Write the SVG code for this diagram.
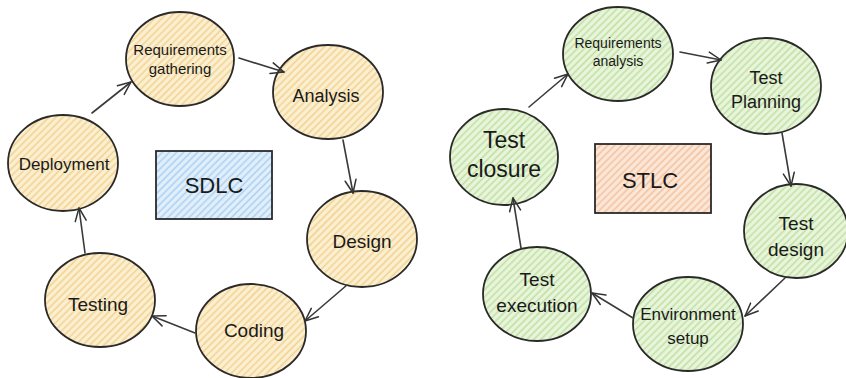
<svg xmlns="http://www.w3.org/2000/svg" width="846" height="378" viewBox="0 0 846 378">
  <defs>
    <!-- hachure fills -->
    <pattern id="hatchYellow" width="5" height="5" patternUnits="userSpaceOnUse" patternTransform="rotate(-45)">
      <rect width="5" height="5" fill="#fcf0d2"/>
      <line x1="0" y1="2.5" x2="5" y2="2.5" stroke="#f2d08e" stroke-width="1.5"/>
    </pattern>
    <pattern id="hatchGreen" width="5" height="5" patternUnits="userSpaceOnUse" patternTransform="rotate(-45)">
      <rect width="5" height="5" fill="#e9f5dc"/>
      <line x1="0" y1="2.5" x2="5" y2="2.5" stroke="#bddf9f" stroke-width="1.5"/>
    </pattern>
    <pattern id="hatchBlue" width="5" height="5" patternUnits="userSpaceOnUse" patternTransform="rotate(-45)">
      <rect width="5" height="5" fill="#e2f0fb"/>
      <line x1="0" y1="2.5" x2="5" y2="2.5" stroke="#a9cff0" stroke-width="1.5"/>
    </pattern>
    <pattern id="hatchOrange" width="5" height="5" patternUnits="userSpaceOnUse" patternTransform="rotate(-45)">
      <rect width="5" height="5" fill="#fce7d8"/>
      <line x1="0" y1="2.5" x2="5" y2="2.5" stroke="#f2c09c" stroke-width="1.5"/>
    </pattern>
    <marker id="arrow" markerWidth="16" markerHeight="16" refX="14" refY="8" orient="auto" markerUnits="userSpaceOnUse">
      <path d="M1,2.5 L14,8 L1,13.5" fill="none" stroke="#333" stroke-width="1.5" stroke-linecap="round" stroke-linejoin="round"/>
    </marker>
  </defs>
  <style>
    .node { stroke: #2a2a2a; stroke-width: 1.8; }
    .sdlc { fill: url(#hatchYellow); }
    .stlc { fill: url(#hatchGreen); }
    .label { font-family: "Liberation Sans", "DejaVu Sans", sans-serif; fill: #1a1a1a; text-anchor: middle; }
    .edge { fill: none; stroke: #3a3a3a; stroke-width: 1.6; stroke-linecap: round; marker-end: url(#arrow); }
  </style>

  <rect width="846" height="378" fill="#ffffff"/>

  <!-- SDLC cycle -->
  <g id="sdlc-title">
    <rect x="156" y="151" width="116" height="68" fill="url(#hatchBlue)" class="node"/>
    <text class="label" x="214" y="193" font-size="22">SDLC</text>
  </g>
  <g id="req-gathering">
    <ellipse cx="180" cy="59" rx="54" ry="47" class="node sdlc"/>
    <text class="label" x="180" y="55" font-size="15">Requirements</text>
    <text class="label" x="180" y="74" font-size="15">gathering</text>
  </g>
  <g id="analysis">
    <ellipse cx="328" cy="92" rx="55" ry="47" class="node sdlc"/>
    <text class="label" x="326" y="102" font-size="18">Analysis</text>
  </g>
  <g id="design">
    <ellipse cx="362" cy="239" rx="55" ry="48" class="node sdlc"/>
    <text class="label" x="362" y="248" font-size="19">Design</text>
  </g>
  <g id="coding">
    <ellipse cx="251" cy="331" rx="55" ry="47" class="node sdlc"/>
    <text class="label" x="254" y="337" font-size="19">Coding</text>
  </g>
  <g id="testing">
    <ellipse cx="100" cy="300" rx="55" ry="47" class="node sdlc"/>
    <text class="label" x="98" y="311" font-size="19">Testing</text>
  </g>
  <g id="deployment">
    <ellipse cx="63" cy="163" rx="55" ry="48" class="node sdlc"/>
    <text class="label" x="64" y="170" font-size="17">Deployment</text>
  </g>

  <!-- STLC cycle -->
  <g id="stlc-title">
    <rect x="595" y="144" width="116" height="69" fill="url(#hatchOrange)" class="node"/>
    <text class="label" x="650" y="188" font-size="22">STLC</text>
  </g>
  <g id="req-analysis">
    <ellipse cx="618" cy="54" rx="55" ry="47" class="node stlc"/>
    <text class="label" x="618" y="48" font-size="14">Requirements</text>
    <text class="label" x="618" y="66" font-size="14">analysis</text>
  </g>
  <g id="test-planning">
    <ellipse cx="766" cy="86" rx="55" ry="48" class="node stlc"/>
    <text class="label" x="766" y="84" font-size="18">Test</text>
    <text class="label" x="766" y="108" font-size="18">Planning</text>
  </g>
  <g id="test-design">
    <ellipse cx="796" cy="231" rx="52" ry="47" class="node stlc"/>
    <text class="label" x="796" y="230" font-size="19">Test</text>
    <text class="label" x="796" y="256" font-size="19">design</text>
  </g>
  <g id="env-setup">
    <ellipse cx="688" cy="324" rx="55" ry="47" class="node stlc"/>
    <text class="label" x="688" y="320" font-size="17">Environment</text>
    <text class="label" x="688" y="344" font-size="17">setup</text>
  </g>
  <g id="test-execution">
    <ellipse cx="537" cy="294" rx="54" ry="47" class="node stlc"/>
    <text class="label" x="537" y="286" font-size="19">Test</text>
    <text class="label" x="537" y="312" font-size="19">execution</text>
  </g>
  <g id="test-closure">
    <ellipse cx="504" cy="157" rx="54" ry="48" class="node stlc"/>
    <text class="label" x="504" y="148" font-size="23">Test</text>
    <text class="label" x="504" y="177" font-size="23">closure</text>
  </g>

  <!-- connectors -->
  <g id="connectors">
    <line class="edge" x1="239" y1="58" x2="284" y2="72"/>
    <line class="edge" x1="343" y1="140" x2="353" y2="193"/>
    <line class="edge" x1="347" y1="285" x2="305" y2="321"/>
    <line class="edge" x1="195" y1="333" x2="152" y2="316"/>
    <line class="edge" x1="85" y1="253" x2="79" y2="208"/>
    <line class="edge" x1="92" y1="113" x2="131" y2="82"/>

    <line class="edge" x1="680" y1="52" x2="721" y2="60"/>
    <line class="edge" x1="782" y1="133" x2="791" y2="186"/>
    <line class="edge" x1="785" y1="278" x2="745" y2="316"/>
    <line class="edge" x1="633" y1="318" x2="592" y2="293"/>
    <line class="edge" x1="521" y1="248" x2="513" y2="198"/>
    <line class="edge" x1="529" y1="107" x2="568" y2="74"/>
  </g>
</svg>
